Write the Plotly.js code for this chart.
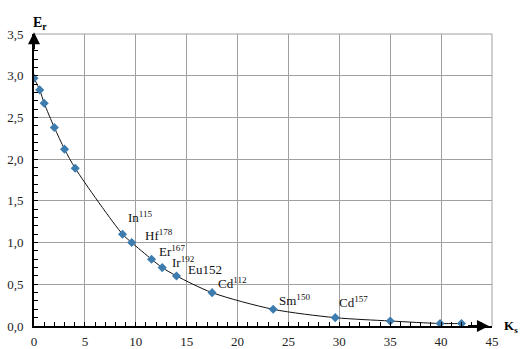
<!DOCTYPE html>
<html><head><meta charset="utf-8">
<script src="https://cdn.plot.ly/plotly-3.0.1.min.js"></script>
<style>html,body{margin:0;padding:0;background:#fff}</style>
</head><body><div id="chart" style="width:521px;height:349px"></div>
<script>
const ksValues = [0, 0.56, 1.0, 2.0, 3.0, 4.05, 8.7, 9.6, 11.55, 12.6, 14.0, 17.5, 23.5, 29.6, 35.0, 39.9, 42.0];
const erValues = [2.97, 2.83, 2.67, 2.38, 2.12, 1.89, 1.10, 1.00, 0.80, 0.70, 0.60, 0.40, 0.20, 0.10, 0.06, 0.03, 0.03];
const labelTexts = ['In<sup>115</sup>', 'Hf<sup>178</sup>', 'Er<sup>167</sup>', 'Ir<sup>192</sup>', 'Eu152', 'Cd<sup>112</sup>', 'Sm<sup>150</sup>', 'Cd<sup>157</sup>'];
const labelX = [9.0, 10.7, 12.1, 13.4, 14.9, 17.9, 23.9, 29.8];
const labelY = [1.31, 1.09, 0.90, 0.77, 0.68, 0.52, 0.31, 0.29];

const serif = "'Liberation Serif', 'Times New Roman', serif";
const annotations = labelTexts.map((t, i) => ({
  x: labelX[i], y: labelY[i], xref: 'x', yref: 'y', text: t, showarrow: false,
  xanchor: 'left', yanchor: 'middle', font: {family: serif, size: 13, color: '#111'}
}));
annotations.push({x: 0, y: 3.52, ax: 0, ay: 3.3, xref: 'x', yref: 'y', axref: 'x', ayref: 'y',
  showarrow: true, arrowhead: 2, arrowsize: 1.2, arrowwidth: 2, arrowcolor: '#000', text: ''});
annotations.push({x: 44.7, y: 0, ax: 42.5, ay: 0, xref: 'x', yref: 'y', axref: 'x', ayref: 'y',
  showarrow: true, arrowhead: 2, arrowsize: 1.2, arrowwidth: 2, arrowcolor: '#000', text: ''});
annotations.push({x: 0.6, y: 1, xref: 'x', yref: 'paper', yshift: 21, text: '<b>E<sub>r</sub></b>',
  showarrow: false, xanchor: 'center', font: {family: serif, size: 14, color: '#000'}});
annotations.push({x: 1, y: 0, xref: 'paper', yref: 'paper', xshift: 10, text: '<b>K<sub>s</sub></b>',
  showarrow: false, xanchor: 'left', yanchor: 'middle', font: {family: serif, size: 13, color: '#000'}});

const trace = {
  x: ksValues, y: erValues, type: 'scatter', mode: 'lines+markers',
  line: {color: '#111', width: 1, shape: 'spline', smoothing: 0.8},
  marker: {symbol: 'diamond', size: 7, color: '#3d7cae'},
  hoverinfo: 'none'
};

const layout = {
  width: 521, height: 349,
  margin: {l: 34, r: 29, t: 34, b: 23},
  separators: ', ',
  showlegend: false,
  paper_bgcolor: '#fff', plot_bgcolor: '#fff',
  font: {family: serif, size: 13, color: '#222'},
  xaxis: {
    range: [0, 45], dtick: 5, tick0: 0, showgrid: true, gridcolor: '#a0a0a0', gridwidth: 1,
    zeroline: false, showline: true, linecolor: '#000', linewidth: 2,
    ticks: 'inside', ticklen: 4, tickcolor: '#000', tickwidth: 1, ticklabelstandoff: 2,
    minor: {dtick: 1, ticks: 'inside', ticklen: 4, tickcolor: '#000', showgrid: false},
    tickfont: {family: serif, size: 13, color: '#222'}
  },
  yaxis: {
    range: [0, 3.5], dtick: 0.5, tick0: 0, tickformat: '.1f', showgrid: true, gridcolor: '#a0a0a0', gridwidth: 1,
    zeroline: false, showline: true, linecolor: '#000', linewidth: 2,
    ticks: 'inside', ticklen: 4, tickcolor: '#000', tickwidth: 1, ticklabelstandoff: 6,
    minor: {dtick: 0.1, ticks: 'inside', ticklen: 4, tickcolor: '#000', showgrid: false},
    tickfont: {family: serif, size: 13, color: '#222'}
  },
  shapes: [
    {type: 'line', xref: 'paper', yref: 'paper', x0: 1, x1: 1, y0: 0, y1: 1, line: {color: '#a0a0a0', width: 1}},
    {type: 'line', xref: 'paper', yref: 'paper', x0: 0, x1: 1, y0: 1, y1: 1, line: {color: '#a0a0a0', width: 1}}
  ],
  annotations: annotations
};
Plotly.newPlot('chart', [trace], layout, {displayModeBar: false, staticPlot: true});
</script></body></html>
